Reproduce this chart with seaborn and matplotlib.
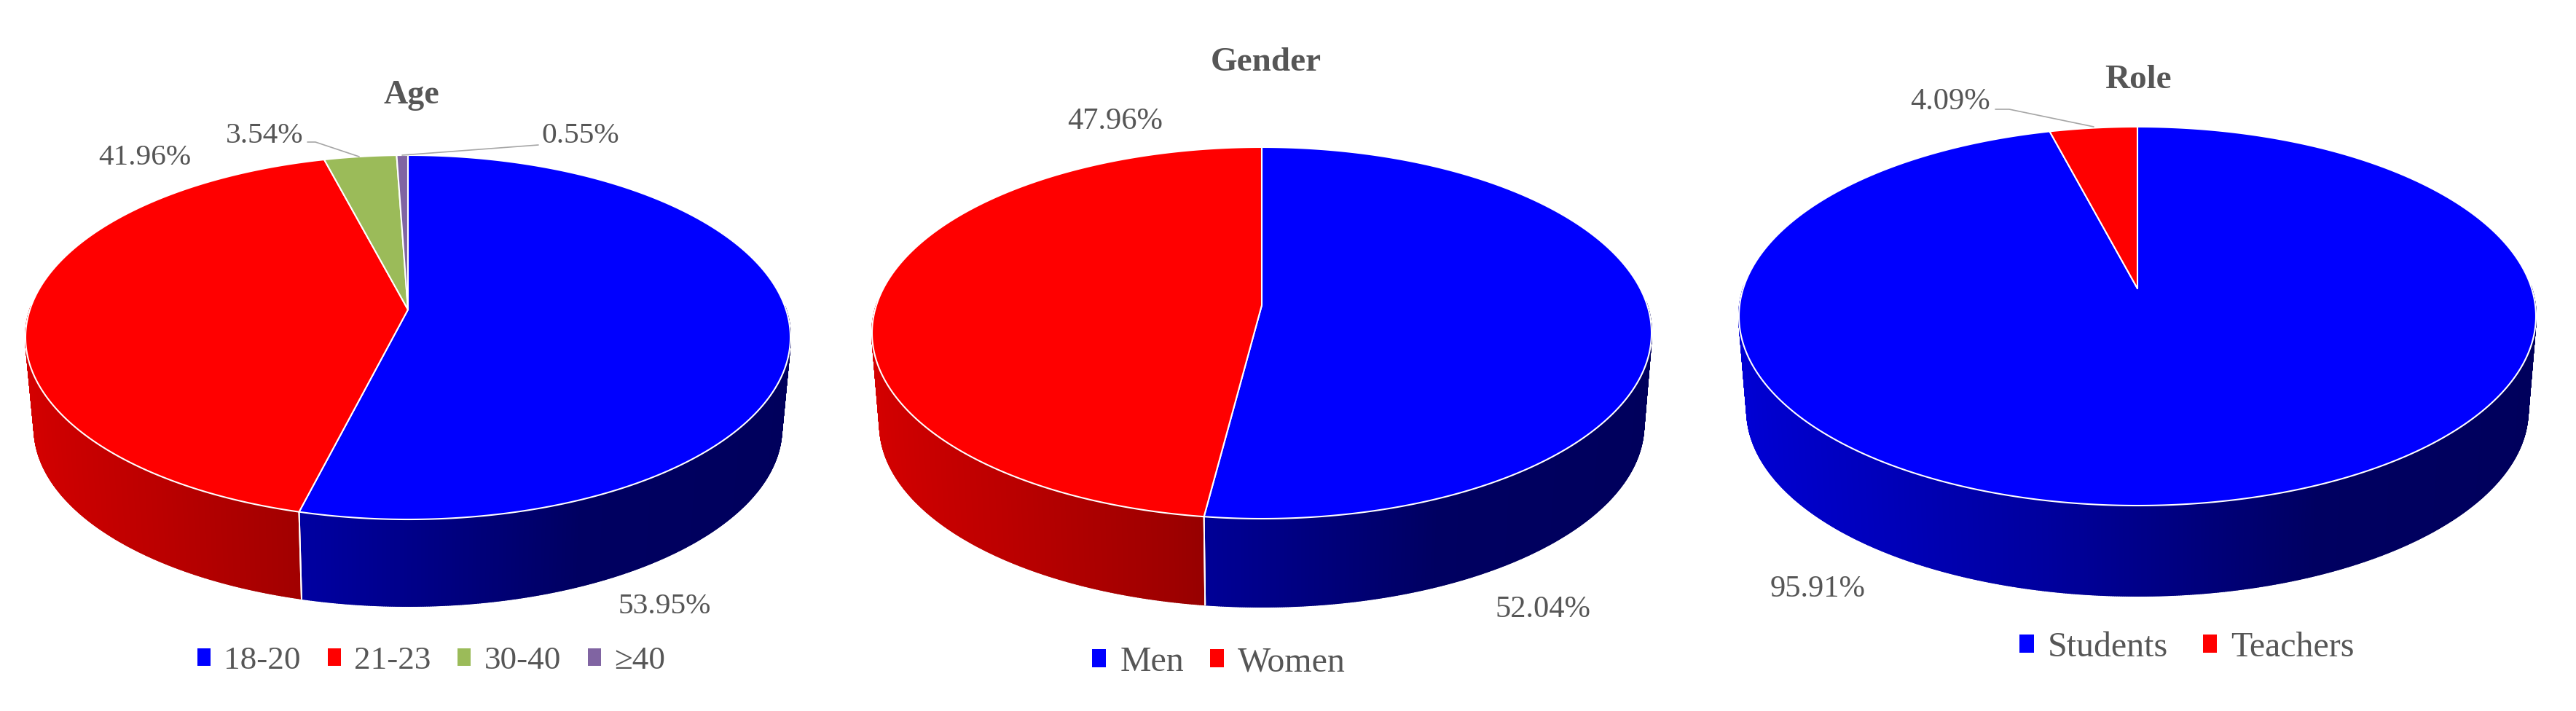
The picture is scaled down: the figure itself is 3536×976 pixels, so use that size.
import numpy as np
import matplotlib
matplotlib.use("Agg")
import matplotlib.pyplot as plt
from matplotlib.patches import Polygon, Patch
from matplotlib.collections import PolyCollection
from matplotlib.colors import to_rgb
import seaborn as sns

sns.set_theme(style="white")
plt.rcParams['font.family'] = ['Liberation Serif', 'DejaVu Serif']

# ---- data
age_labels = ["18-20", "21-23", "30-40", "≥40"]
age_values = [53.95, 41.96, 3.54, 0.55]
gender_labels = ["Men", "Women"]
gender_values = [52.04, 47.96]
role_labels = ["Students", "Teachers"]
role_values = [95.91, 4.09]

colors = sns.color_palette(["#0000FF", "#FF0000", "#9BBB59", "#8064A2"])
TEXT = "#565656"
W, H = 3536, 976

# ---- layout (pixels of the figure)
panels = [
    dict(title="Age", labels=age_labels, values=age_values, span=(0, 1180),
         cx=560, a=525, top=213, apex=425, bot=713, low=832, s=0.977,
         title_xy=(565, 131), title_fs=33, fs=29.7,
         label_xy=[(912, 833), (199, 216), (363, 187), (797, 187)],
         leaders=[None, None, [(422, 195), (433, 195), (493, 215)], [(739, 199), (552, 213)]],
         leg_xy=(592, 907), leg_fs=32.5, colsp=0.82),
    dict(title="Gender", labels=gender_labels, values=gender_values, span=(1180, 2350),
         cx=1732, a=535, top=202, apex=419, bot=712, low=833, s=0.98,
         title_xy=(1738, 86), title_fs=34, fs=30.6,
         label_xy=[(2118, 837), (1531, 167)],
         leaders=[None, None],
         leg_xy=(1673, 909), leg_fs=34.5, colsp=0.75),
    dict(title="Role", labels=role_labels, values=role_values, span=(2350, 3536),
         cx=2934, a=547, top=174, apex=396, bot=694, low=818, s=0.98,
         title_xy=(2935, 110), title_fs=34, fs=30.6,
         label_xy=[(2495, 809), (2677, 140)],
         leaders=[None, [(2739, 150), (2758, 150), (2874, 174)]],
         leg_xy=(3002, 889), leg_fs=34.5, colsp=1.0),
]

shade_u = [-1.0, -0.6, -0.2, 0.1, 0.4, 1.0]
shade_f = [0.84, 0.74, 0.62, 0.50, 0.38, 0.36]

fig, axes = plt.subplots(1, 3, figsize=(W / 100, H / 100), dpi=100)

for ax, p in zip(axes, panels):
    x0, x1 = p["span"]
    ax.set_position([x0 / W, 0, (x1 - x0) / W, 1])
    wedges, _ = ax.pie(p["values"], colors=colors[:len(p["values"])], startangle=90, counterclock=False)
    ax.set_aspect("auto")
    ax.set_xlim(x0, x1)
    ax.set_ylim(H, 0)

    # projective view of the unit pie
    up = p["apex"] - p["top"]
    dn = p["bot"] - p["apex"]
    k = (dn - up) / (dn + up)
    B = up * (1 + k)
    A = p["a"] * np.sqrt(1 - k ** 2)
    y_low = p["low"] - p["s"] * dn

    def top_xy(u, v):
        w = 1 + k * v
        return p["cx"] + A * u / w, p["apex"] - B * v / w

    def low_xy(u, v):
        w = 1 + k * v
        return p["cx"] + p["s"] * A * u / w, y_low - p["s"] * B * v / w

    for wedge, col in zip(wedges, colors):
        t1, t2 = wedge.theta1, wedge.theta2
        wedge.remove()
        phi = np.radians(np.linspace(t1, t2, max(int((t2 - t1) * 4), 8)))
        u, v = np.cos(phi), np.sin(phi)

        # outer side wall
        tx, ty = top_xy(u, v)
        lx, ly = low_xy(u, v)
        quads, fc = [], []
        for i in range(len(u) - 1):
            if v[i] < 0.02 and v[i + 1] < 0.02:
                quads.append([(tx[i], ty[i]), (tx[i + 1], ty[i + 1]), (lx[i + 1], ly[i + 1]), (lx[i], ly[i])])
                f = np.interp((u[i] + u[i + 1]) / 2, shade_u, shade_f)
                fc.append(tuple(np.array(to_rgb(col)) * f))
        if quads:
            ax.add_collection(PolyCollection(quads, facecolors=fc, edgecolors=fc, linewidths=1.4, zorder=1))

        # white seams on the wall
        for t in (t1, t2):
            a_ = np.radians(t)
            uu, vv = np.cos(a_), np.sin(a_)
            if vv < -0.02 and len(p["values"]) > 1:
                x_a, y_a = top_xy(uu, vv)
                x_b, y_b = low_xy(uu, vv)
                ax.plot([x_a, x_b], [y_a, y_b], color="white", lw=1.4, zorder=1.5)

        # top face
        pts = np.column_stack([np.r_[p["cx"], tx], np.r_[p["apex"], ty]])
        ax.add_patch(Polygon(pts, closed=True, facecolor=col, edgecolor="white", lw=1.5, joinstyle="round", zorder=2))

    # data labels
    for val, xy, lead in zip(p["values"], p["label_xy"], p["leaders"]):
        ax.text(xy[0], xy[1], f"{val:.2f}%", fontsize=p["fs"], color=TEXT, ha="center", va="center", zorder=5)
        if lead:
            ax.plot(*zip(*lead), color="#A6A6A6", lw=1.2, zorder=4, clip_on=False)

    ax.text(p["title_xy"][0], p["title_xy"][1], p["title"], fontsize=p["title_fs"], fontweight="bold",
            color=TEXT, ha="center", va="center", zorder=5)

    handles = [Patch(facecolor=c, edgecolor="none") for c in colors[:len(p["labels"])]]
    ax.legend(handles, p["labels"], ncol=len(p["labels"]), loc="center", bbox_to_anchor=p["leg_xy"],
              bbox_transform=ax.transData, frameon=False, fontsize=p["leg_fs"], labelcolor=TEXT,
              handlelength=0.4, handleheight=0.42, handletextpad=0.4, columnspacing=p["colsp"],
              borderpad=0, borderaxespad=0)

fig.savefig("out.png", dpi=100, facecolor="white")
